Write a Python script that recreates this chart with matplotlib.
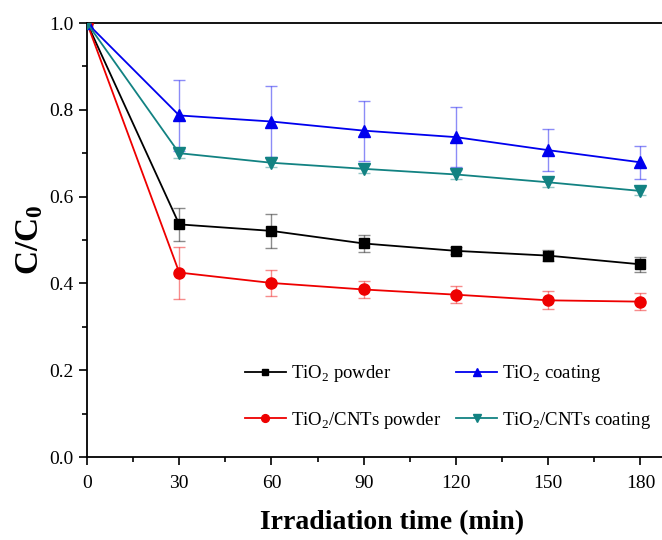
import matplotlib
matplotlib.use("Agg")
import matplotlib.pyplot as plt
from matplotlib.ticker import MultipleLocator

plt.rcParams['font.family'] = ['Liberation Serif', 'DejaVu Serif']
plt.rcParams['mathtext.fontset'] = 'custom'
plt.rcParams['mathtext.rm'] = 'Liberation Serif'
plt.rcParams['mathtext.bf'] = 'Liberation Serif:bold'

#########################################################
# Data
#########################################################
time_min = [0, 30, 60, 90, 120, 150, 180]

tio2_powder = [1.0, 0.536, 0.521, 0.492, 0.475, 0.464, 0.444]
tio2_powder_err = [0, 0.038, 0.039, 0.020, 0.008, 0.012, 0.017]

cnt_powder = [1.0, 0.425, 0.401, 0.386, 0.374, 0.361, 0.358]
cnt_powder_err = [0, 0.060, 0.030, 0.019, 0.019, 0.021, 0.019]

tio2_coating = [1.0, 0.787, 0.773, 0.752, 0.737, 0.707, 0.679]
tio2_coating_err = [0, 0.081, 0.081, 0.069, 0.069, 0.049, 0.038]

cnt_coating = [1.0, 0.700, 0.678, 0.664, 0.651, 0.633, 0.613]
cnt_coating_err = [0, 0.010, 0.010, 0.010, 0.010, 0.010, 0.010]

x_ticks = [0, 30, 60, 90, 120, 150, 180]
y_ticks = [0.0, 0.2, 0.4, 0.6, 0.8, 1.0]

series = [
    (tio2_powder, tio2_powder_err, 'black', 's', 7, r'TiO$_2$ powder'),
    (cnt_powder, cnt_powder_err, '#ee0000', 'o', 8, r'TiO$_2$/CNTs powder'),
    (tio2_coating, tio2_coating_err, '#0000ee', '^', 8.5, r'TiO$_2$ coating'),
    (cnt_coating, cnt_coating_err, '#128282', 'v', 8.5, r'TiO$_2$/CNTs coating'),
]

#########################################################
# Plot
#########################################################
fig = plt.figure(figsize=(6.62, 5.40), dpi=100)
ax = fig.add_axes([0.1314, 0.1537, 0.8686, 0.8037])

handles = []
for vals, errs, color, marker, ms, label in series:
    ax.errorbar(time_min, vals, yerr=errs, fmt='none', ecolor=color,
                alpha=0.45, elinewidth=1.0, capsize=4, capthick=1.0, zorder=2)
    h, = ax.plot(time_min, vals, color=color, marker=marker, markersize=ms,
                 linewidth=1.3, label=label, zorder=3)
    handles.append(h)

ax.set_xlim(0, 187)
ax.set_ylim(0, 1.0)
ax.set_xticks(x_ticks)
ax.set_yticks(y_ticks)
ax.set_yticklabels(['%.1f' % v for v in y_ticks])
ax.xaxis.set_minor_locator(MultipleLocator(15))
ax.yaxis.set_minor_locator(MultipleLocator(0.1))
ax.tick_params(which='both', direction='out', labelsize=14, width=1.2)
ax.tick_params(which='major', length=6)
ax.tick_params(which='minor', length=3.5)
ax.tick_params(axis='x', pad=7)
for side in ['left', 'bottom', 'top']:
    ax.spines[side].set_linewidth(1.3)
ax.spines['right'].set_visible(False)

ax.set_xlabel('Irradiation time (min)', fontsize=20, fontweight='bold')
ax.xaxis.set_label_coords(0.53, -0.122)
ax.set_ylabel(r'$\mathbf{C/C_0}$', fontsize=24, labelpad=3)

ax.legend(handles=handles, ncol=2, frameon=False, fontsize=13.5,
          loc='center left', bbox_to_anchor=(0.245, 0.138),
          handlelength=2.2, handletextpad=0.25, labelspacing=1.35,
          columnspacing=0.8, markerscale=0.7)

plt.savefig('out.png', dpi=100)
